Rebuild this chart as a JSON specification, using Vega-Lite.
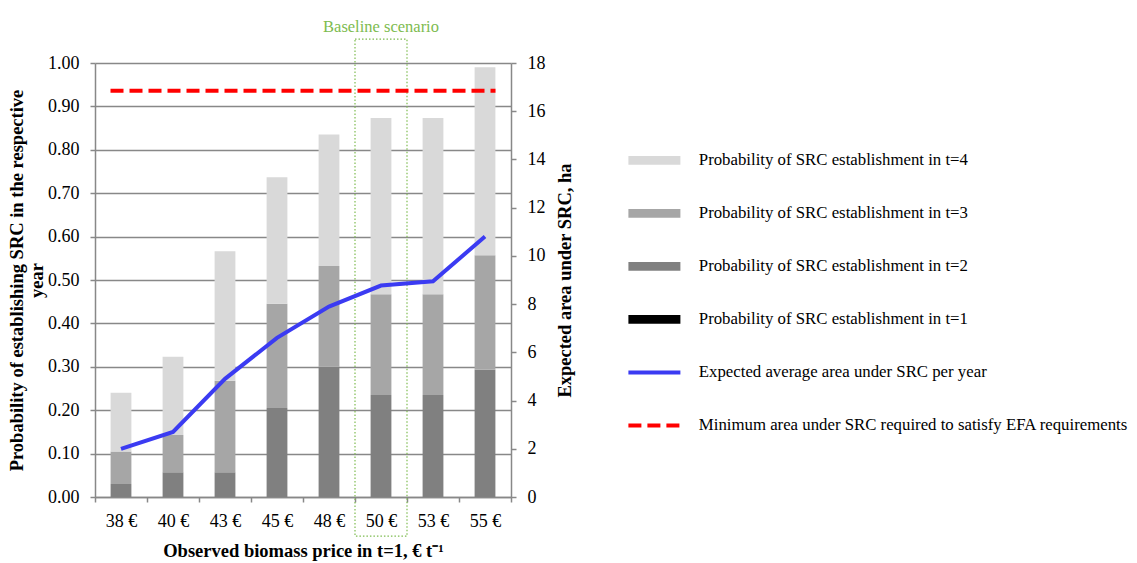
{
  "$schema": "https://vega.github.io/schema/vega-lite/v6.json",
  "width": 416,
  "height": 434,
  "autosize": {"type": "none"},
  "padding": {"left": 95, "top": 63, "right": 626, "bottom": 66},
  "background": "white",
  "config": {
    "font": "Liberation Serif",
    "view": {"stroke": null},
    "axis": {
      "labelFont": "Liberation Serif",
      "labelFontSize": 18,
      "labelColor": "#000000",
      "titleFont": "Liberation Serif",
      "titleFontSize": 18.5,
      "titleFontWeight": "bold",
      "titleColor": "#000000",
      "domainColor": "#888888",
      "tickColor": "#888888",
      "gridColor": "#888888",
      "domainWidth": 1.5,
      "gridWidth": 1.5,
      "tickWidth": 1.5
    }
  },
  "datasets": {
    "bars": [
      {"price": "38 €", "series": "Probability of SRC establishment in t=1", "ord": 1, "prob": 0},
      {"price": "38 €", "series": "Probability of SRC establishment in t=2", "ord": 2, "prob": 0.03},
      {"price": "38 €", "series": "Probability of SRC establishment in t=3", "ord": 3, "prob": 0.075},
      {"price": "38 €", "series": "Probability of SRC establishment in t=4", "ord": 4, "prob": 0.135},
      {"price": "40 €", "series": "Probability of SRC establishment in t=1", "ord": 1, "prob": 0},
      {"price": "40 €", "series": "Probability of SRC establishment in t=2", "ord": 2, "prob": 0.057},
      {"price": "40 €", "series": "Probability of SRC establishment in t=3", "ord": 3, "prob": 0.086},
      {"price": "40 €", "series": "Probability of SRC establishment in t=4", "ord": 4, "prob": 0.18},
      {"price": "43 €", "series": "Probability of SRC establishment in t=1", "ord": 1, "prob": 0},
      {"price": "43 €", "series": "Probability of SRC establishment in t=2", "ord": 2, "prob": 0.057},
      {"price": "43 €", "series": "Probability of SRC establishment in t=3", "ord": 3, "prob": 0.211},
      {"price": "43 €", "series": "Probability of SRC establishment in t=4", "ord": 4, "prob": 0.298},
      {"price": "45 €", "series": "Probability of SRC establishment in t=1", "ord": 1, "prob": 0},
      {"price": "45 €", "series": "Probability of SRC establishment in t=2", "ord": 2, "prob": 0.205},
      {"price": "45 €", "series": "Probability of SRC establishment in t=3", "ord": 3, "prob": 0.24},
      {"price": "45 €", "series": "Probability of SRC establishment in t=4", "ord": 4, "prob": 0.292},
      {"price": "48 €", "series": "Probability of SRC establishment in t=1", "ord": 1, "prob": 0},
      {"price": "48 €", "series": "Probability of SRC establishment in t=2", "ord": 2, "prob": 0.3},
      {"price": "48 €", "series": "Probability of SRC establishment in t=3", "ord": 3, "prob": 0.232},
      {"price": "48 €", "series": "Probability of SRC establishment in t=4", "ord": 4, "prob": 0.303},
      {"price": "50 €", "series": "Probability of SRC establishment in t=1", "ord": 1, "prob": 0},
      {"price": "50 €", "series": "Probability of SRC establishment in t=2", "ord": 2, "prob": 0.235},
      {"price": "50 €", "series": "Probability of SRC establishment in t=3", "ord": 3, "prob": 0.232},
      {"price": "50 €", "series": "Probability of SRC establishment in t=4", "ord": 4, "prob": 0.406},
      {"price": "53 €", "series": "Probability of SRC establishment in t=1", "ord": 1, "prob": 0},
      {"price": "53 €", "series": "Probability of SRC establishment in t=2", "ord": 2, "prob": 0.235},
      {"price": "53 €", "series": "Probability of SRC establishment in t=3", "ord": 3, "prob": 0.232},
      {"price": "53 €", "series": "Probability of SRC establishment in t=4", "ord": 4, "prob": 0.406},
      {"price": "55 €", "series": "Probability of SRC establishment in t=1", "ord": 1, "prob": 0},
      {"price": "55 €", "series": "Probability of SRC establishment in t=2", "ord": 2, "prob": 0.293},
      {"price": "55 €", "series": "Probability of SRC establishment in t=3", "ord": 3, "prob": 0.264},
      {"price": "55 €", "series": "Probability of SRC establishment in t=4", "ord": 4, "prob": 0.433}
    ],
    "area": [
      {"price": "38 €", "series": "Expected average area under SRC per year", "area": 2.0},
      {"price": "40 €", "series": "Expected average area under SRC per year", "area": 2.7},
      {"price": "43 €", "series": "Expected average area under SRC per year", "area": 4.9},
      {"price": "45 €", "series": "Expected average area under SRC per year", "area": 6.6},
      {"price": "48 €", "series": "Expected average area under SRC per year", "area": 7.9},
      {"price": "50 €", "series": "Expected average area under SRC per year", "area": 8.77},
      {"price": "53 €", "series": "Expected average area under SRC per year", "area": 8.95},
      {"price": "55 €", "series": "Expected average area under SRC per year", "area": 10.8}
    ],
    "minarea": [
      {"start": "38 €", "end": "55 €", "series": "Minimum area under SRC required to satisfy EFA requirements", "area": 16.85}
    ],
    "baseline": [
      {"price": "50 €", "top": 1.055, "bottom": -0.09, "labelpos": 1.083, "label": "Baseline scenario"}
    ]
  },
  "layer": [
    {
      "layer": [
        {
          "data": {"name": "bars"},
          "mark": {"type": "bar", "width": {"band": 0.4}},
          "encoding": {
            "x": {
              "field": "price", "type": "nominal",
              "scale": {"domain": ["38 €", "40 €", "43 €", "45 €", "48 €", "50 €", "53 €", "55 €"], "paddingInner": 0, "paddingOuter": 0},
              "axis": {"labelAngle": 0, "tickBand": "extent", "tickSize": 5, "labelPadding": 10, "grid": false, "titlePadding": 11},
              "title": "Observed biomass price in t=1, € t⁻¹"
            },
            "y": {
              "field": "prob", "type": "quantitative", "stack": "zero",
              "scale": {"domain": [0, 1]},
              "axis": {
                "values": [0, 0.1, 0.2, 0.3, 0.4, 0.5, 0.6, 0.7, 0.8, 0.9, 1.0],
                "format": ".2f", "grid": true, "tickSize": 5, "labelPadding": 11,
                "titlePadding": 1, "titleLineHeight": 20
              },
              "title": ["Probability of establishing SRC in the respective", "year"]
            },
            "color": {
              "field": "series", "type": "nominal",
              "scale": {
                "domain": [
                  "Probability of SRC establishment in t=4",
                  "Probability of SRC establishment in t=3",
                  "Probability of SRC establishment in t=2",
                  "Probability of SRC establishment in t=1",
                  "Expected average area under SRC per year",
                  "Minimum area under SRC required to satisfy EFA requirements"
                ],
                "range": ["#d9d9d9", "#a6a6a6", "#808080", "#000000", "#3b3bf2", "#ff0000"]
              },
              "legend": {
                "orient": "none", "legendX": 551, "legendY": 89, "title": null,
                "labelFont": "Liberation Serif", "labelFontSize": 16.8, "labelColor": "#000000",
                "labelLimit": 600, "symbolSize": 2704, "rowPadding": 35, "labelOffset": 36,
                "encode": {
                  "symbols": {
                    "update": {
                      "shape": {"signal": "datum.index < 4 ? 'M-1,-0.17H1V0.17H-1Z' : 'M-1,0H1'"},
                      "fill": {"signal": "datum.index < 4 ? scale('color', datum.value) : 'transparent'"},
                      "stroke": {"signal": "datum.index < 4 ? 'transparent' : scale('color', datum.value)"},
                      "strokeWidth": {"signal": "datum.index < 4 ? 0 : 4"},
                      "strokeDash": {"signal": "datum.index == 5 ? [13, 6] : [1, 0]"},
                      "opacity": {"value": 1}
                    }
                  }
                }
              }
            },
            "order": {"field": "ord", "type": "quantitative"}
          }
        },
        {
          "data": {"name": "baseline"},
          "mark": {"type": "rect", "fill": "transparent", "stroke": "#7dbb4f", "strokeWidth": 1.2, "strokeDash": [1.5, 2]},
          "encoding": {
            "x": {"field": "price", "type": "nominal", "scale": {"domain": ["38 €", "40 €", "43 €", "45 €", "48 €", "50 €", "53 €", "55 €"], "paddingInner": 0, "paddingOuter": 0}},
            "y": {
              "field": "top", "type": "quantitative", "scale": {"domain": [0, 1]},
              "axis": {
                "values": [0, 0.1, 0.2, 0.3, 0.4, 0.5, 0.6, 0.7, 0.8, 0.9, 1.0],
                "format": ".2f", "grid": true, "tickSize": 5, "labelPadding": 11,
                "titlePadding": 1, "titleLineHeight": 20
              },
              "title": ["Probability of establishing SRC in the respective", "year"]
            },
            "y2": {"field": "bottom"}
          }
        },
        {
          "data": {"name": "baseline"},
          "mark": {"type": "text", "color": "#7dbb4f", "fontSize": 16.5, "font": "Liberation Serif", "baseline": "middle"},
          "encoding": {
            "x": {"field": "price", "type": "nominal", "scale": {"domain": ["38 €", "40 €", "43 €", "45 €", "48 €", "50 €", "53 €", "55 €"], "paddingInner": 0, "paddingOuter": 0}},
            "y": {
              "field": "labelpos", "type": "quantitative", "scale": {"domain": [0, 1]},
              "axis": {
                "values": [0, 0.1, 0.2, 0.3, 0.4, 0.5, 0.6, 0.7, 0.8, 0.9, 1.0],
                "format": ".2f", "grid": true, "tickSize": 5, "labelPadding": 11,
                "titlePadding": 1, "titleLineHeight": 20
              },
              "title": ["Probability of establishing SRC in the respective", "year"]
            },
            "text": {"field": "label"}
          }
        }
      ]
    },
    {
      "layer": [
        {
          "data": {"name": "area"},
          "mark": {"type": "line", "strokeWidth": 4},
          "encoding": {
            "x": {"field": "price", "type": "nominal", "scale": {"domain": ["38 €", "40 €", "43 €", "45 €", "48 €", "50 €", "53 €", "55 €"], "paddingInner": 0, "paddingOuter": 0}},
            "y": {
              "field": "area", "type": "quantitative",
              "scale": {"domain": [0, 18]},
              "axis": {"orient": "right", "values": [0, 2, 4, 6, 8, 10, 12, 14, 16, 18], "grid": false, "tickSize": 5, "labelPadding": 11, "titleAngle": 270, "titleBaseline": "top", "titlePadding": 10},
              "title": "Expected area under SRC, ha"
            },
            "color": {"field": "series", "type": "nominal"}
          }
        },
        {
          "data": {"name": "minarea"},
          "mark": {"type": "rule", "strokeWidth": 4, "strokeDash": [13, 6], "xOffset": -10.5, "x2Offset": 10.5},
          "encoding": {
            "x": {"field": "start", "type": "nominal", "scale": {"domain": ["38 €", "40 €", "43 €", "45 €", "48 €", "50 €", "53 €", "55 €"], "paddingInner": 0, "paddingOuter": 0}},
            "x2": {"field": "end"},
            "y": {
              "field": "area", "type": "quantitative", "scale": {"domain": [0, 18]},
              "axis": {"orient": "right", "values": [0, 2, 4, 6, 8, 10, 12, 14, 16, 18], "grid": false, "tickSize": 5, "labelPadding": 11, "titleAngle": 270, "titleBaseline": "top", "titlePadding": 10},
              "title": "Expected area under SRC, ha"
            },
            "color": {"field": "series", "type": "nominal"}
          }
        }
      ]
    }
  ],
  "resolve": {"scale": {"y": "independent"}}
}
